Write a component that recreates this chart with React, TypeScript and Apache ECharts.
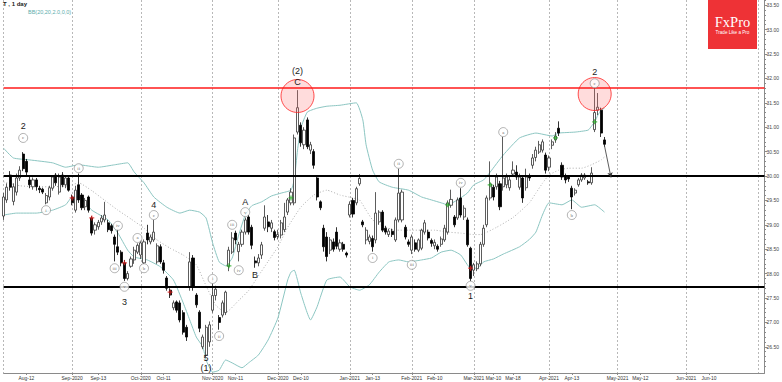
import React, { useEffect, useRef } from "react";
import * as echarts from "echarts";

// ---------- categories (trading days) ----------
const START_DATE = "2020-08-03";
const CATEGORY_COUNT = 234;
const HOLIDAYS = ["2020-09-07", "2020-11-26", "2020-12-25", "2021-01-01", "2021-01-18", "2021-02-15", "2021-04-02", "2021-07-05"];

function tradingDays(start: string, count: number, skip: string[]): string[] {
  const out: string[] = [];
  const d = new Date(start + "T00:00:00Z");
  while (out.length < count) {
    const day = d.getUTCDay();
    const iso = d.toISOString().slice(0, 10);
    if (day !== 0 && day !== 6 && !skip.includes(iso)) out.push(iso);
    d.setUTCDate(d.getUTCDate() + 1);
  }
  return out;
}
const categories = tradingDays(START_DATE, CATEGORY_COUNT, HOLIDAYS);

// ---------- axis labels ----------
const X_LABELS: [number, string][] = [
  [7, "Aug-12"], [21, "Sep-2020"], [29, "Sep-13"], [42, "Oct-2020"], [49, "Oct-11"],
  [64, "Nov-2020"], [71, "Nov-11"], [84, "Dec-2020"], [91, "Dec-10"], [106, "Jan-2021"],
  [113, "Jan-13"], [125, "Feb-2021"], [132, "Feb-10"], [144, "Mar-2021"], [150, "Mar-10"],
  [156, "Mar-18"], [167, "Apr-2021"], [174, "Apr-13"], [188, "May-2021"], [195, "May-12"],
  [209, "Jun-2021"], [216, "Jun-10"],
];
const MONTH_STARTS = [0, 21, 42, 64, 84, 106, 125, 144, 167, 188, 209, 231];
const Y_TICKS = [26.5, 27.0, 27.5, 28.0, 28.5, 29.0, 29.5, 30.0, 30.5, 31.0, 31.5, 32.0, 32.5, 33.0, 33.5];
const Y_MIN = 25.963;
const Y_MAX = 33.607;

// ---------- candles: [open, close, low, high] ----------
const candles: [number, number, number, number][] = [
  // Aug 2020
  [29.18, 29.57, 29.10, 29.65], [29.51, 29.77, 29.45, 29.85], [30.02, 29.77, 29.70, 30.10], [29.48, 29.78, 29.40, 29.85],
  [29.67, 29.96, 29.60, 30.05], [29.96, 30.12, 29.90, 30.20], [30.45, 30.15, 30.10, 30.49], [30.30, 30.08, 30.00, 30.35],
  [29.92, 29.82, 29.75, 29.98], [29.78, 29.92, 29.72, 29.97], [29.92, 29.78, 29.70, 29.96], [29.75, 29.72, 29.65, 29.80],
  [29.73, 29.67, 29.63, 29.76], [29.45, 29.60, 29.42, 29.65], [29.57, 29.76, 29.50, 29.80], [29.75, 29.98, 29.70, 30.02],
  [30.02, 29.86, 29.80, 30.06], [29.67, 29.98, 29.62, 30.05], [30.02, 29.82, 29.77, 30.08], [29.82, 29.96, 29.75, 30.02],
  [29.96, 29.71, 29.68, 30.00],
  // Sep 2020
  [29.57, 29.45, 29.40, 29.62], [29.30, 29.71, 29.25, 29.80], [29.82, 29.51, 29.45, 30.05], [29.61, 29.35, 29.30, 29.65],
  [29.37, 29.50, 29.30, 29.55], [29.57, 29.30, 29.25, 29.60], [29.14, 28.83, 28.78, 29.18], [28.89, 29.00, 28.80, 29.05],
  [28.96, 29.05, 28.90, 29.10], [29.06, 29.14, 29.00, 29.20], [29.10, 29.20, 29.05, 29.47], [29.04, 28.90, 28.85, 29.10],
  [28.98, 28.88, 28.82, 29.02], [28.75, 28.60, 28.25, 28.80], [28.55, 28.44, 28.38, 28.90], [28.44, 28.22, 28.15, 28.48],
  [28.22, 27.90, 27.85, 28.28], [27.90, 28.00, 27.86, 28.05], [28.15, 28.30, 28.12, 28.35], [28.28, 28.48, 28.20, 28.55],
  [28.44, 28.58, 28.40, 28.62],
  // Oct 2020
  [28.38, 28.63, 28.30, 28.68], [28.22, 28.65, 28.20, 28.70], [28.83, 28.69, 28.60, 29.00], [28.65, 28.75, 28.60, 28.80],
  [28.69, 28.85, 28.65, 29.10], [28.24, 28.57, 28.20, 28.62], [28.55, 28.24, 28.20, 28.60], [28.22, 28.07, 28.00, 28.28],
  [27.91, 27.70, 27.65, 27.95], [27.66, 27.56, 27.50, 27.70], [27.30, 27.40, 27.25, 27.45], [27.42, 27.25, 27.20, 27.45],
  [27.40, 27.05, 27.00, 27.45], [27.20, 26.80, 26.75, 27.25], [26.90, 26.70, 26.62, 26.95], [27.73, 28.24, 27.65, 28.44],
  [28.32, 27.73, 27.65, 28.38], [27.56, 27.36, 27.30, 27.60], [27.21, 26.88, 26.80, 27.25], [26.50, 26.70, 26.45, 26.75],
  [26.33, 26.90, 26.29, 26.95], [26.60, 26.95, 26.50, 27.02],
  // Nov 2020
  [27.25, 27.55, 27.20, 27.80], [27.55, 27.68, 27.45, 27.75], [27.10, 27.00, 26.85, 27.15], [27.15, 27.40, 27.10, 27.45],
  [27.20, 27.62, 27.15, 27.65], [28.15, 28.48, 28.05, 28.55], [28.44, 28.73, 28.40, 28.85], [28.83, 28.69, 28.60, 28.88],
  [28.45, 28.60, 28.25, 28.65], [28.60, 28.85, 28.55, 28.90], [28.85, 29.10, 28.80, 29.15], [29.16, 28.85, 28.80, 29.20],
  [28.95, 28.58, 28.50, 29.00], [28.26, 28.22, 28.12, 28.35], [28.22, 28.32, 28.15, 28.40], [28.38, 28.59, 28.30, 28.65],
  [28.93, 29.16, 28.88, 29.40], [29.06, 28.96, 28.85, 29.20], [28.93, 29.04, 28.85, 29.10], [28.86, 28.74, 28.68, 28.90],
  // Dec 2020
  [28.76, 28.80, 28.70, 28.90], [28.79, 29.04, 28.72, 29.10], [28.90, 29.16, 28.85, 29.45], [29.26, 29.51, 29.20, 29.55],
  [29.45, 29.67, 29.40, 29.75], [29.45, 30.78, 29.40, 30.85], [30.90, 31.40, 30.85, 31.76], [31.04, 30.68, 30.60, 31.10],
  [30.64, 30.94, 30.55, 31.00], [31.15, 30.60, 30.55, 31.20], [30.53, 30.64, 30.45, 30.70], [30.50, 30.22, 30.15, 30.55],
  [29.96, 29.57, 29.50, 30.02], [29.47, 29.35, 29.30, 29.50], [28.93, 28.55, 28.45, 29.00], [28.75, 28.35, 28.25, 28.85],
  [28.48, 28.69, 28.40, 28.75], [28.65, 28.50, 28.45, 28.72], [28.85, 28.56, 28.50, 28.95], [28.50, 28.63, 28.45, 28.70],
  [28.60, 28.50, 28.45, 28.65], [28.42, 28.38, 28.33, 28.45],
  // Jan 2021
  [29.20, 29.42, 29.15, 29.48], [29.50, 29.22, 29.15, 29.55], [29.45, 29.74, 29.40, 29.78], [29.84, 29.95, 29.80, 30.04],
  [29.06, 29.00, 28.95, 29.10], [28.69, 28.89, 28.60, 28.95], [28.66, 28.75, 28.60, 28.80], [28.72, 28.55, 28.45, 28.78],
  [28.69, 29.24, 28.62, 29.67], [29.06, 29.26, 29.00, 29.30], [29.26, 28.89, 28.85, 29.30], [28.93, 28.85, 28.80, 28.98],
  [28.80, 28.87, 28.75, 28.92], [28.87, 28.80, 28.75, 28.92], [28.69, 29.10, 28.65, 29.15], [29.10, 29.65, 29.05, 30.15],
  [29.10, 29.67, 29.05, 29.72], [28.95, 28.75, 28.70, 29.00], [28.65, 28.60, 28.55, 28.70],
  // Feb 2021
  [28.48, 28.75, 28.40, 28.80], [28.63, 28.50, 28.45, 28.70], [28.48, 28.69, 28.44, 28.72], [28.52, 28.89, 28.48, 28.92],
  [28.85, 29.04, 28.80, 29.10], [28.85, 28.73, 28.68, 28.90], [28.68, 28.62, 28.55, 28.72], [28.57, 28.64, 28.50, 28.70],
  [28.56, 28.50, 28.45, 28.60], [28.60, 28.71, 28.55, 28.76], [28.69, 28.93, 28.65, 29.00], [28.85, 29.45, 28.80, 29.50],
  [29.40, 29.52, 29.35, 29.72], [29.16, 29.00, 28.95, 29.20], [29.14, 29.51, 29.10, 29.56], [29.55, 29.20, 29.15, 29.75],
  [29.16, 29.34, 29.10, 29.40], [29.10, 28.59, 28.55, 29.15], [28.52, 27.90, 27.85, 28.55],
  // Mar 2021
  [28.07, 28.18, 27.95, 28.22], [28.10, 28.20, 28.05, 28.25], [28.20, 28.60, 28.15, 28.65], [28.60, 28.93, 28.55, 29.00],
  [29.00, 29.55, 28.95, 29.60], [29.55, 29.84, 29.50, 30.30], [29.77, 29.57, 29.50, 29.82], [29.78, 29.98, 29.72, 30.05],
  [29.84, 29.37, 29.30, 29.90], [29.78, 29.96, 29.70, 30.80], [29.82, 29.98, 29.75, 30.05], [29.76, 29.92, 29.70, 30.00],
  [30.04, 30.12, 29.98, 30.30], [30.08, 29.98, 29.92, 30.22], [29.77, 29.98, 29.72, 30.05], [29.96, 29.55, 29.45, 30.00],
  [29.76, 29.98, 29.70, 30.15], [29.99, 29.96, 29.90, 30.05], [30.22, 30.37, 30.15, 30.45], [30.38, 30.53, 30.30, 30.60],
  [30.49, 30.64, 30.45, 30.72], [30.53, 30.70, 30.48, 30.75], [30.43, 30.12, 30.05, 30.48],
  // Apr 2021
  [30.18, 30.37, 30.10, 30.42], [30.63, 30.70, 30.55, 30.75], [30.74, 30.82, 30.68, 30.90], [30.98, 30.88, 30.82, 31.12],
  [30.22, 29.98, 29.92, 30.28], [30.00, 29.92, 29.85, 30.05], [29.98, 29.94, 29.88, 30.02], [29.75, 29.57, 29.32, 29.80],
  [29.65, 29.71, 29.60, 29.75], [29.82, 29.92, 29.78, 29.96], [29.92, 30.02, 29.88, 30.06], [29.96, 30.02, 29.92, 30.06],
  [29.88, 29.86, 29.82, 29.92], [29.86, 30.06, 29.82, 30.18], [30.95, 31.30, 30.90, 31.82], [31.35, 31.41, 31.25, 31.70],
  [31.35, 30.88, 30.80, 31.40], [30.74, 30.65, 30.60, 30.80],
];

// ---------- Bollinger bands: [index, price] ----------
const upperBand: [number, number][] = [
  [0, 30.57], [3, 30.37], [8, 30.33], [15, 30.27], [19, 30.18], [23, 30.23], [29, 30.18], [34, 30.23], [38, 30.27],
  [40, 30.08], [43, 29.86], [46, 29.57], [50, 29.36], [54, 29.24], [57, 29.30], [60, 29.26], [62, 29.14], [64, 28.63],
  [66, 28.24], [68, 28.16], [70, 28.32], [72, 28.79], [74, 29.20], [76, 29.39], [79, 29.47], [82, 29.59], [85, 29.65],
  [88, 29.71], [89, 29.92], [90, 30.53], [91, 30.98], [93, 31.31], [96, 31.39], [99, 31.43], [103, 31.45], [108, 31.50],
  [110, 31.15], [111, 30.64], [113, 30.12], [115, 29.88], [119, 29.77], [124, 29.71], [128, 29.57], [131, 29.51],
  [134, 29.45], [136, 29.41], [139, 29.51], [142, 29.65], [144, 29.82], [147, 29.92], [149, 30.08], [153, 30.43],
  [158, 30.78], [163, 30.88], [168, 30.82], [170, 30.88], [175, 30.90], [179, 30.94], [180, 31.02], [181, 31.11],
  [182, 31.25], [183, 31.35], [184, 31.39],
];
const middleBand: [number, number][] = [
  [0, 29.88], [5, 29.80], [10, 29.78], [15, 29.78], [20, 29.80], [23, 29.86], [27, 29.70], [31, 29.50], [35, 29.30],
  [39, 29.12], [43, 28.93], [47, 28.69], [51, 28.52], [55, 28.38], [59, 28.18], [62, 27.75], [65, 27.35], [68, 27.20],
  [72, 27.45], [75, 27.65], [78, 27.95], [81, 28.25], [84, 28.55], [87, 28.95], [91, 29.36], [95, 29.61], [99, 29.71],
  [103, 29.61], [107, 29.55], [109, 29.51], [111, 29.30], [113, 29.10], [116, 28.98], [120, 28.89], [124, 28.89],
  [128, 28.89], [132, 28.89], [136, 28.85], [140, 28.83], [144, 28.80], [146, 28.80], [151, 28.95], [156, 29.15],
  [161, 29.45], [163, 29.65], [165, 29.85], [167, 30.02], [170, 30.12], [173, 30.16], [177, 30.16], [180, 30.23],
  [183, 30.33], [184, 30.39],
];
const lowerBand: [number, number][] = [
  [0, 29.20], [4, 29.24], [10, 29.24], [15, 29.30], [19, 29.41], [21, 29.57], [23, 29.57], [27, 29.30], [32, 29.10],
  [35, 28.83], [38, 28.48], [40, 28.34], [44, 28.28], [48, 28.14], [52, 27.87], [55, 27.40], [57, 27.05], [59, 26.70],
  [61, 26.50], [62, 26.23], [64, 25.98], [66, 26.02], [68, 26.23], [70, 26.17], [73, 26.07], [75, 26.17], [78, 26.33],
  [81, 26.64], [84, 27.09], [87, 27.87], [88, 28.03], [89, 28.07], [91, 27.60], [94, 27.05], [96, 27.32], [99, 27.87],
  [103, 27.93], [106, 27.73], [109, 27.66], [112, 27.77], [115, 28.03], [118, 28.24], [121, 28.28], [124, 28.24],
  [128, 28.28], [131, 28.32], [134, 28.44], [137, 28.48], [140, 28.38], [143, 28.11], [145, 28.11], [147, 28.24],
  [150, 28.30], [153, 28.40], [158, 28.55], [161, 28.70], [163, 28.85], [165, 29.20], [167, 29.45], [171, 29.41],
  [174, 29.51], [177, 29.36], [181, 29.41], [184, 29.26],
];

// ---------- levels & annotations ----------
const RESISTANCE = 31.8;
const SUPPORTS = [30.0, 27.73];
const ASK_PRICE = 30.85;
const BID_PRICE = 30.65;
const HIGHLIGHTS: [number, number][] = [[90, 31.64], [181, 31.68]];
const ARROW: [[number, number], [number, number]] = [[184, 30.62], [186, 29.97]];
const RED_MARKS: [number, number][] = [[21, 29.55], [27, 29.14], [37, 28.22], [51, 27.62], [143, 28.11]];
const GREEN_MARKS: [number, number][] = [[69, 28.16], [88, 29.55], [136, 29.41], [149, 29.82], [169, 30.78], [181, 31.11]];
const MINOR_LABELS: [number, number, string][] = [
  [6, 30.78, "c"], [13, 29.30, "i"], [23, 30.16, "ii"], [34, 28.11, "iii"], [35, 28.98, "iv"], [37, 27.73, "v"],
  [41, 28.73, "a"], [43, 28.11, "b"], [46, 29.20, "c"], [64, 27.89, "i"], [66, 26.72, "ii"], [70, 29.00, "iii"],
  [72, 28.07, "iv"], [74, 29.26, "v"], [113, 28.32, "i"], [121, 30.25, "ii"], [125, 28.18, "iii"], [140, 29.86, "iv"],
  [143, 27.75, "v"], [153, 30.90, "a"], [174, 29.20, "b"], [181, 31.90, "c"],
];
const MAJOR_LABELS: [number, number, string][] = [
  [6, 31.02, "2"], [37, 27.42, "3"], [46, 29.40, "4"], [62, 26.27, "5"], [62, 26.07, "(1)"], [74, 29.47, "A"],
  [77, 27.97, "B"], [90, 32.16, "(2)"], [90, 31.92, "C"], [143, 27.54, "1"], [181, 32.13, "2"],
];

const PLUS = "path://M3,0L5,0L5,3L8,3L8,5L5,5L5,8L3,8L3,5L0,5L0,3L3,3Z";
const FONT = "'Liberation Sans', Arial, sans-serif";

export default function App() {
  const ref = useRef<HTMLDivElement>(null);
  useEffect(() => {
    if (!ref.current) return;
    const chart = echarts.init(ref.current, undefined, { renderer: "svg" });
    const labelMap = new Map<number, string>(X_LABELS);
    const minorTicks: number[] = [];
    for (let k = 261; k <= 336; k++) minorTicks.push(k / 10);

    const baseGraphic: any[] = [
      { type: "text", left: 3, top: 1, style: { text: "T , 1 day", font: `bold 6px ${FONT}`, fill: "#222" } },
      { type: "text", left: 28, top: 9, style: { text: "BB(20,20,2.0,0,0)", font: `5.5px ${FONT}`, fill: "#5aacab" } },
      { type: "rect", shape: { x: 708, y: 0, width: 49, height: 49 }, style: { fill: "#ee3236" }, z: 10 },
      { type: "text", x: 732.5, y: 22, z: 11, style: { text: "FxPro", font: "14.5px 'Liberation Serif', 'DejaVu Serif', serif", fill: "#ffffff", textAlign: "center", textVerticalAlign: "middle" } },
      { type: "text", x: 732.5, y: 32.5, z: 11, style: { text: "Trade Like a Pro", font: `4.6px ${FONT}`, fill: "#ffffff", textAlign: "center", textVerticalAlign: "middle" } },
    ];

    const option: any = {
      animation: false,
      backgroundColor: "#ffffff",
      grid: { left: 3.6, right: 17, top: 0, bottom: 9 },
      xAxis: {
        type: "category",
        data: categories,
        boundaryGap: false,
        axisLine: { lineStyle: { color: "#8a8a8a", width: 1 } },
        axisTick: { show: true, interval: (i: number) => labelMap.has(i), length: 2, lineStyle: { color: "#8a8a8a" } },
        axisLabel: {
          interval: (i: number) => labelMap.has(i),
          formatter: (_v: string, i: number) => labelMap.get(i) ?? "",
          fontSize: 4.9, color: "#333", margin: 2.5, fontFamily: FONT,
        },
        splitLine: {
          show: true,
          interval: (i: number) => MONTH_STARTS.includes(i),
          lineStyle: { color: "#b8b8b8", type: [2, 2], width: 1 },
        },
      },
      yAxis: [
        {
          type: "value", position: "right", min: Y_MIN, max: Y_MAX,
          axisLine: { show: true, lineStyle: { color: "#8a8a8a" } },
          axisTick: { show: true, customValues: Y_TICKS, length: 3, lineStyle: { color: "#8a8a8a" } },
          axisLabel: { customValues: Y_TICKS, formatter: (v: number) => v.toFixed(2), fontSize: 5, color: "#444", margin: 2, fontFamily: FONT },
          splitLine: { show: false },
        },
        {
          type: "value", position: "right", min: Y_MIN, max: Y_MAX,
          axisLine: { show: false },
          axisTick: { show: true, customValues: minorTicks, length: 1.5, lineStyle: { color: "#8a8a8a" } },
          axisLabel: { show: false },
          splitLine: { show: false },
        },
      ],
      series: [
        {
          type: "line", data: upperBand, symbol: "none", smooth: 0.15, silent: true, z: 1,
          lineStyle: { color: "#8cc6c2", width: 1 },
        },
        {
          type: "line", data: lowerBand, symbol: "none", smooth: 0.15, silent: true, z: 1,
          lineStyle: { color: "#8cc6c2", width: 1 },
        },
        {
          type: "line", data: middleBand, symbol: "none", smooth: 0.15, silent: true, z: 1,
          lineStyle: { color: "#9a9a9a", width: 0.8, type: [1, 2] },
        },
        {
          type: "candlestick",
          data: candles,
          barWidth: 2.6,
          z: 3,
          itemStyle: { color: "#ffffff", color0: "#000000", borderColor: "#333333", borderColor0: "#000000", borderWidth: 0.8 },
          markLine: {
            silent: true, symbol: ["none", "none"], animation: false,
            label: { show: false },
            data: [
              { yAxis: RESISTANCE, lineStyle: { color: "#ff1a1a", width: 1.5, type: "solid" } },
              ...SUPPORTS.map((v) => ({ yAxis: v, lineStyle: { color: "#000000", width: 1.8, type: "solid" } })),
              [
                { coord: [categories[ARROW[0][0]], ARROW[0][1]], symbol: "none" },
                { coord: [categories[ARROW[1][0]], ARROW[1][1]], symbol: "arrow", symbolSize: [4, 5], lineStyle: { color: "#333", width: 0.8, type: "solid" } },
              ],
              {
                yAxis: ASK_PRICE, lineStyle: { opacity: 0, width: 0 },
                label: { show: true, position: "end", distance: 1, formatter: ASK_PRICE.toFixed(2), fontSize: 5, color: "#223", backgroundColor: "#c4d8ea", padding: [1, 2], fontFamily: FONT },
              },
              {
                yAxis: BID_PRICE, lineStyle: { opacity: 0, width: 0 },
                label: { show: true, position: "end", distance: 1, formatter: BID_PRICE.toFixed(2), fontSize: 5, color: "#223", backgroundColor: "#ffffff", borderColor: "#777", borderWidth: 0.6, padding: [1, 2], fontFamily: FONT },
              },
            ],
          },
        },
        {
          type: "scatter", data: HIGHLIGHTS, symbolSize: 33, silent: true, z: 4,
          itemStyle: { color: "rgba(255,110,110,0.3)", borderColor: "#ff2222", borderWidth: 1 },
        },
        {
          type: "scatter", data: RED_MARKS, symbol: PLUS, symbolSize: 5, silent: true, z: 5,
          itemStyle: { color: "#e02020" },
        },
        {
          type: "scatter", data: GREEN_MARKS, symbol: PLUS, symbolSize: 5, silent: true, z: 5,
          itemStyle: { color: "#22aa22" },
        },
        {
          type: "scatter", silent: true, z: 6, symbolSize: 9,
          data: MINOR_LABELS.map(([i, p, t]) => ({ value: [i, p], name: t })),
          itemStyle: { color: "#ffffff", borderColor: "#777", borderWidth: 0.7 },
          label: { show: true, position: "inside", formatter: "{b}", fontSize: 5, color: "#444", textBorderWidth: 0, fontFamily: "'Liberation Serif', serif" },
        },
      ],
      graphic: baseGraphic,
    };
    chart.setOption(option);

    // major wave labels placed through the chart's own scales
    const waveTexts = MAJOR_LABELS.map(([i, p, t]) => {
      const pt = chart.convertToPixel({ xAxisIndex: 0, yAxisIndex: 0 }, [i, p]) as number[];
      return {
        type: "text", x: pt[0], y: pt[1], z: 12, silent: true,
        style: { text: t, font: `9px ${FONT}`, fill: "#1a1a1a", textAlign: "center", textVerticalAlign: "middle" },
      };
    });
    chart.setOption({ graphic: [...baseGraphic, ...waveTexts] }, { replaceMerge: ["graphic"] });

    return () => chart.dispose();
  }, []);
  return <div ref={ref} style={{ position: "fixed", left: 0, top: 0, width: 782, height: 382, background: "#fff" }} />;
}
